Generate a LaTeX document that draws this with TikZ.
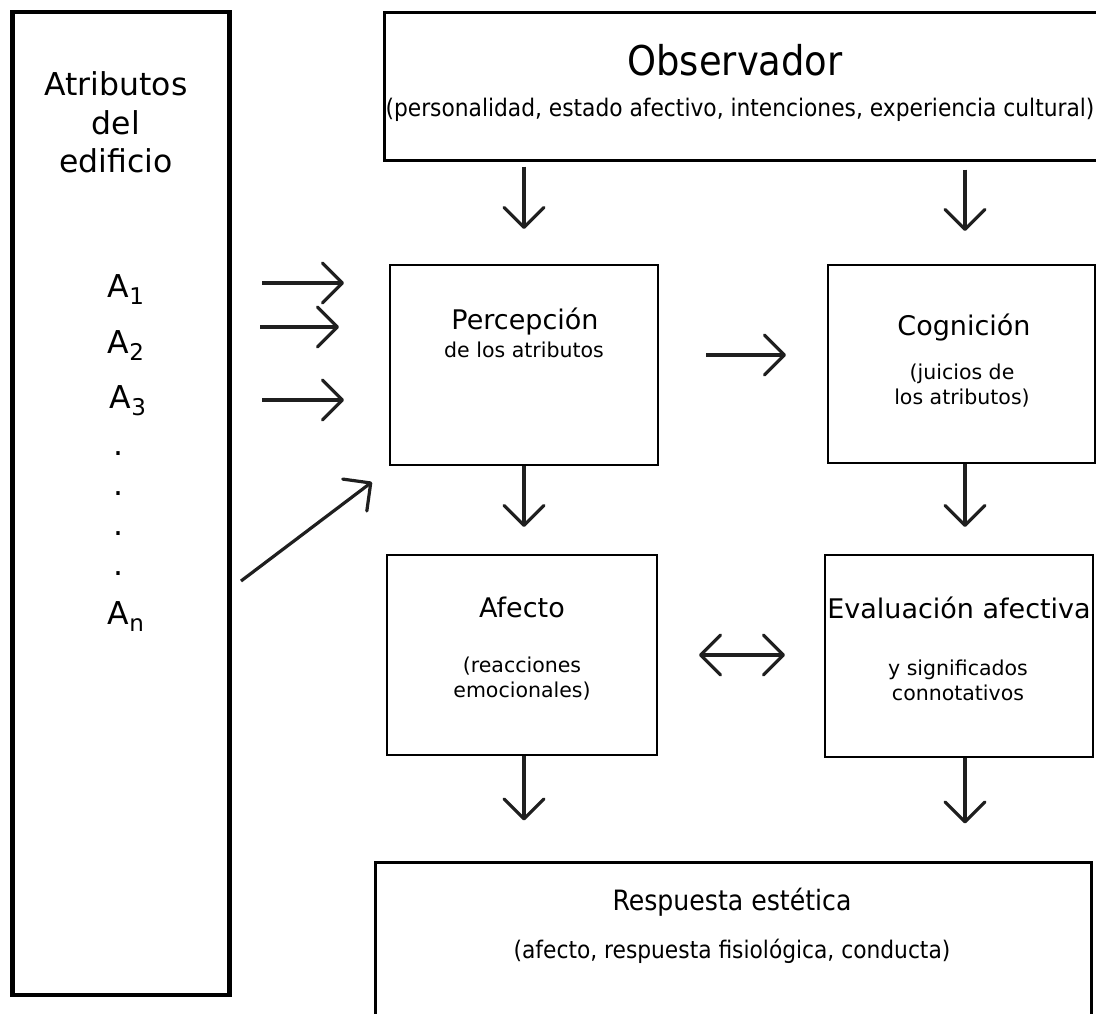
\documentclass[tikz,border=0pt]{standalone}
\usepackage{fontspec}
\setmainfont{DejaVu Sans}
\newfontfamily\condfont{DejaVu Sans Condensed}
\usetikzlibrary{arrows.meta,calc}

\newcommand\fsbig{\fontsize{31.5}{38}\selectfont}
\newcommand\fstitle{\fontsize{27}{32}\selectfont}
\newcommand\fssub{\fontsize{20.5}{25}\selectfont}
\newcommand\fsctitle{\condfont\fontsize{41}{46}\selectfont}
\newcommand\fsrtitle{\condfont\fontsize{28}{33}\selectfont}
\newcommand\fscsub{\condfont\fontsize{24.2}{28}\selectfont}
\newcommand\attr[1]{A\raisebox{-7pt}{\fontsize{23}{23}\selectfont #1}}

\tikzset{
  box/.style={draw, line width=2pt, inner sep=0pt, fill=white},
  bigbox/.style={draw, line width=3pt, inner sep=0pt, fill=white},
  leftbox/.style={draw, line width=4.5pt, inner sep=0pt},
  txt/.style={inner sep=0pt, anchor=base},
  barb/.tip={Straight Barb[length=20pt,width=40pt,round]},
  arr/.style={line width=3.2pt, draw=black!88, -barb},
  dbl/.style={line width=3.2pt, draw=black!88, barb-barb},
}

\begin{document}
\begin{tikzpicture}[x=1pt,y=-1pt]
  \useasboundingbox (0,0) rectangle (1096,1013);
  \clip (0,0) rectangle (1096,1013);

  % boxes
  \node[leftbox, minimum width=217, minimum height=983] (edif) at (121,503.5) {};
  \node[bigbox, minimum width=726, minimum height=148] (obs) at (747,86) {};
  \node[box, minimum width=268, minimum height=200] (percep) at (524,365) {};
  \node[box, minimum width=267, minimum height=198] (cogn) at (961.5,364) {};
  \node[box, minimum width=270, minimum height=200] (afecto) at (522,655) {};
  \node[box, minimum width=268, minimum height=202] (eval) at (959,656) {};
  \node[bigbox, minimum width=716, minimum height=180] (resp) at (733,952) {};

  % building attributes
  \node[txt, font=\fsbig] (t1) at (116,95) {Atributos};
  \node[txt, font=\fsbig] (t2) at (116,134) {del};
  \node[txt, font=\fsbig] (t3) at (116,172) {edificio};
  \node[txt, font=\fsbig] (a1) at (126,297) {\attr{1}};
  \node[txt, font=\fsbig] (a2) at (126,353) {\attr{2}};
  \node[txt, font=\fsbig] (a3) at (128,408) {\attr{3}};
  \node[txt, font=\fsbig] (d1) at (119,455) {.};
  \node[txt, font=\fsbig] (d2) at (119,495) {.};
  \node[txt, font=\fsbig] (d3) at (119,535) {.};
  \node[txt, font=\fsbig] (d4) at (119,575) {.};
  \node[txt, font=\fsbig] (an) at (126,624) {\attr{n}};

  % observer
  \node[txt, font=\fsctitle] (obs1) at (735,75) {Observador};
  \node[txt, font=\fscsub] (obs2) at (740,116) {(personalidad, estado afectivo, intenciones, experiencia cultural)};

  % perception
  \node[txt, font=\fstitle] (p1) at (525,329) {Percepción};
  \node[txt, font=\fssub] (p2) at (524,357) {de los atributos};

  % cognition
  \node[txt, font=\fstitle] (c1) at (964,335) {Cognición};
  \node[txt, font=\fssub] (c2) at (962,379) {(juicios de};
  \node[txt, font=\fssub] (c3) at (962,404) {los atributos)};

  % affect
  \node[txt, font=\fstitle] (f1) at (522,617) {Afecto};
  \node[txt, font=\fssub] (f2) at (522,672) {(reacciones};
  \node[txt, font=\fssub] (f3) at (522,697) {emocionales)};

  % affective appraisal
  \node[txt, font=\fstitle] (e1) at (959,618) {Evaluación afectiva};
  \node[txt, font=\fssub] (e2) at (958,675) {y significados};
  \node[txt, font=\fssub] (e3) at (958,700) {connotativos};

  % aesthetic response
  \node[txt, font=\fsrtitle] (r1) at (732,910) {Respuesta estética};
  \node[txt, font=\fscsub] (r2) at (732,958) {(afecto, respuesta fisiológica, conducta)};

  % free starting points of the attribute arrows
  \coordinate (s1) at (262,283);
  \coordinate (s2) at (260,327);
  \coordinate (s3) at (262,400);
  \coordinate (sn) at (241,581);

  % observer to perception and cognition
  \draw[arr, shorten <=5pt, shorten >=35pt]
    (obs.south -| percep.north) -- (percep.north);
  \draw[arr, shorten <=8pt, shorten >=33pt]
    ([xshift=3.5pt]obs.south -| cogn.north) -- ([xshift=3.5pt]cogn.north);

  % attributes to perception
  \draw[arr, shorten >=45pt] (s1) -- (s1 -| percep.west);
  \draw[arr, shorten >=50pt] (s2) -- (s2 -| percep.west);
  \draw[arr, shorten >=45pt] (s3) -- (s3 -| percep.west);
  \draw[arr] (sn) -- ($(percep.south west)+(-17,16)$);

  % main flow
  \draw[arr, shorten <=47pt, shorten >=41pt]
    ([yshift=10pt]percep.east) -- ([yshift=10pt]percep.east -| cogn.west);
  \draw[arr, shorten >=27pt] (percep.south) -- ([xshift=2pt]afecto.north);
  \draw[arr, shorten >=27pt] ([xshift=3.5pt]cogn.south) -- ([xshift=6pt]eval.north);
  \draw[dbl, shorten <=41pt, shorten >=39pt] (afecto.east) -- (afecto.east -| eval.west);
  \draw[arr, shorten >=40pt] ([xshift=2pt]afecto.south) -- ([xshift=-209pt]resp.north);
  \draw[arr, shorten >=37pt] ([xshift=6pt]eval.south) -- ([xshift=232pt]resp.north);
\end{tikzpicture}
\end{document}
